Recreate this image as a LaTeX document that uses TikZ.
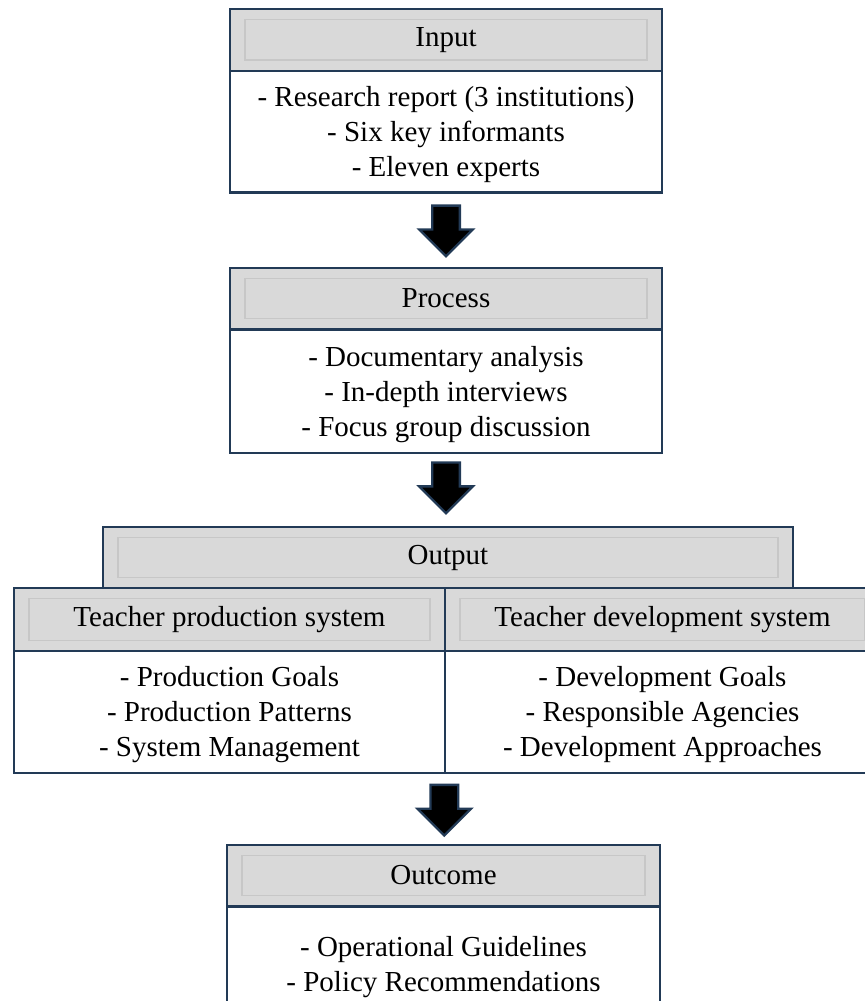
\documentclass[tikz,border=0pt]{standalone}
\usepackage{fontspec}
\setmainfont{Liberation Serif}
\usetikzlibrary{shapes.arrows,calc}

\definecolor{framecol}{RGB}{34,58,86}
\definecolor{hdrgray}{RGB}{217,217,217}

\tikzset{
  hdrbox/.style={draw=framecol, line width=0.7pt, fill=hdrgray, inner sep=0pt, outer sep=0pt, minimum height=18.5pt},
  bodybox/.style={draw=framecol, line width=0.7pt, fill=white, inner sep=0pt, outer sep=0pt, align=center, minimum height=36.5pt, anchor=north,
    text depth=-3.4pt},
  innerframe/.style={draw=black!22, line width=0.4pt},
  bigarrow/.style={single arrow, draw=framecol, line width=0.7pt, fill=black, rotate=-90, anchor=tail,
    minimum height=15.2pt, minimum width=16pt, single arrow head extend=3.9pt, inner xsep=0pt, inner ysep=3.8pt}
}

\begin{document}
\begin{tikzpicture}[x=0.3pt,y=-0.3pt,font=\fontsize{8.7}{10.5}\selectfont]
            \useasboundingbox (0,0) rectangle (865,1001);
            \clip (0,0) rectangle (865,1001);

            % input
            \node[hdrbox, minimum width=129.6pt] (inhdr) at (446,40) {Input};
            \node[bodybox, minimum width=129.6pt] (inbody) at (inhdr.south) {- Research report (3 institutions)\\- Six key informants\\- Eleven experts};

            % process
            \node[hdrbox, minimum width=129.6pt] (prochdr) at (446,298.5) {Process};
            \node[bodybox, minimum width=129.6pt, minimum height=37pt] (procbody) at (prochdr.south) {- Documentary analysis\\- In-depth interviews\\- Focus group discussion};

            % output
            \node[hdrbox, minimum width=207pt] (outhdr) at (448,557.5) {Output};
            \node[hdrbox, minimum width=129.3pt, minimum height=18.9pt] (prodhdr) at (229.5,619.5) {Teacher production system};
            \node[bodybox, minimum width=129.3pt] (prodbody) at (prodhdr.south) {- Production Goals\\- Production Patterns\\- System Management};
            \node[hdrbox, minimum width=130.5pt, minimum height=18.9pt] (devhdr) at (662.5,619.5) {Teacher development system};
            \node[bodybox, minimum width=130.5pt] (devbody) at (devhdr.south) {- Development Goals\\- Responsible Agencies\\- Development Approaches};

            % outcome
            \node[hdrbox, minimum width=129.9pt] (outchdr) at (443.5,875.5) {Outcome};
            \node[bodybox, minimum width=129.9pt, text depth=1.9pt] (outcbody) at (outchdr.south) {- Operational Guidelines\\- Policy Recommendations};

            \foreach \h in {inhdr,prochdr,outhdr,prodhdr,devhdr,outchdr}
              \draw[innerframe] ([xshift=4.5pt,yshift=-3.2pt]\h.north west) rectangle ([xshift=-4.5pt,yshift=3.2pt]\h.south east);

            % arrows
            \node[bigarrow] (arrA) at ([yshift=-3.6pt]inbody.south) {};
            \node[bigarrow] (arrB) at ([yshift=-2.6pt]procbody.south) {};
            \node[bigarrow] (arrC) at ([xshift=-0.2pt,yshift=-3.3pt]prodbody.south east) {};
        \end{tikzpicture}
\end{document}
